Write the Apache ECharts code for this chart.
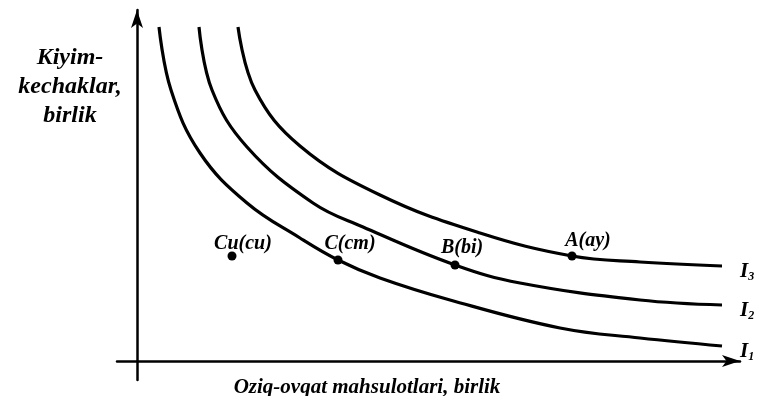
<!DOCTYPE html>
<html>
<head>
<meta charset="utf-8">
<script src="https://cdn.jsdelivr.net/npm/echarts@6/dist/echarts.min.js"></script>
<style>
  html, body { margin: 0; padding: 0; background: #fff; }
  #chart { width: 763px; height: 396px; }
</style>
</head>
<body>
<div id="chart"></div>
<script>
// indifference curves, units (origin at the axes' crossing)
const curveNames = ['1', '2', '3']
const curveI1 = [[22, 334], [34, 271], [63, 208], [110, 158], [163, 123], [201, 101], [243, 83], [313, 61], [423, 33], [503, 23], [585, 15]]
const curveI2 = [[62, 334], [75, 271], [110, 214], [176, 158], [226, 134], [318, 96], [383, 78], [503, 61], [585, 56]]
const curveI3 = [[101, 334], [118, 271], [163, 215], [243, 166], [343, 128], [435, 105], [503, 99], [585, 95]]

const pointNames = ['Cu(cu)', 'C(cm)', 'B(bi)', 'A(ay)']
const pointValues = [[95, 105], [201, 101], [318, 96], [435, 105]]
const pointLabelOffsets = [[11, 7], [12, 3], [7, 2], [16, 4]]

const yTitle = 'Kiyim-\nkechaklar,\nbirlik'
const xTitle = 'Oziq-ovqat mahsulotlari, birlik'

const font = '"Liberation Serif", serif'
const chart = echarts.init(document.getElementById('chart'))

const curveSeries = [curveI1, curveI2, curveI3].map((data, i) => ({
  type: 'line',
  data: data,
  smooth: 0.4,
  showSymbol: false,
  lineStyle: { color: '#000', width: 3.2 },
  endLabel: {
    show: true,
    offset: [10, 6],
    formatter: '{i|I}{s|' + curveNames[i] + '}',
    rich: {
      i: { fontFamily: font, fontStyle: 'italic', fontWeight: 'bold', fontSize: 21, color: '#000' },
      s: { fontFamily: font, fontStyle: 'italic', fontWeight: 'bold', fontSize: 12, color: '#000', verticalAlign: 'bottom', padding: [8, 0, 0, 0] },
    },
  },
  z: 2,
}))

const option = {
  animation: false,
  grid: { left: 117, right: 23, top: 10, bottom: 16 },
  xAxis: {
    type: 'value',
    min: -20,
    max: 603,
    axisLine: { onZero: true, lineStyle: { color: '#000', width: 2.5 }, symbol: ['none', 'arrow'], symbolSize: [9, 18] },
    axisTick: { show: false },
    axisLabel: { show: false },
    splitLine: { show: false },
  },
  yAxis: {
    type: 'value',
    min: -19,
    max: 351,
    axisLine: { onZero: true, lineStyle: { color: '#000', width: 2.5 }, symbol: ['none', 'arrow'], symbolSize: [9, 18] },
    axisTick: { show: false },
    axisLabel: { show: false },
    splitLine: { show: false },
  },
  graphic: [
    {
      type: 'text',
      x: 70,
      y: 43,
      style: {
        text: yTitle,
        fontFamily: font,
        fontStyle: 'italic',
        fontWeight: 'bold',
        fontSize: 24,
        lineHeight: 29,
        align: 'center',
        fill: '#000',
      },
    },
    {
      type: 'text',
      x: 367,
      y: 377,
      style: {
        text: xTitle,
        fontFamily: font,
        fontStyle: 'italic',
        fontWeight: 'bold',
        fontSize: 21,
        align: 'center',
        fill: '#000',
      },
    },
  ],
  series: [
    ...curveSeries,
    {
      type: 'scatter',
      symbolSize: 9,
      itemStyle: { color: '#000', opacity: 1 },
      data: pointNames.map((name, i) => ({
        name: name,
        value: pointValues[i],
        label: { offset: pointLabelOffsets[i] },
      })),
      label: {
        show: true,
        position: 'top',
        formatter: '{b}',
        fontFamily: font,
        fontStyle: 'italic',
        fontWeight: 'bold',
        fontSize: 20,
        color: '#000',
      },
      z: 3,
    },
  ],
}

chart.setOption(option)
</script>
</body>
</html>
